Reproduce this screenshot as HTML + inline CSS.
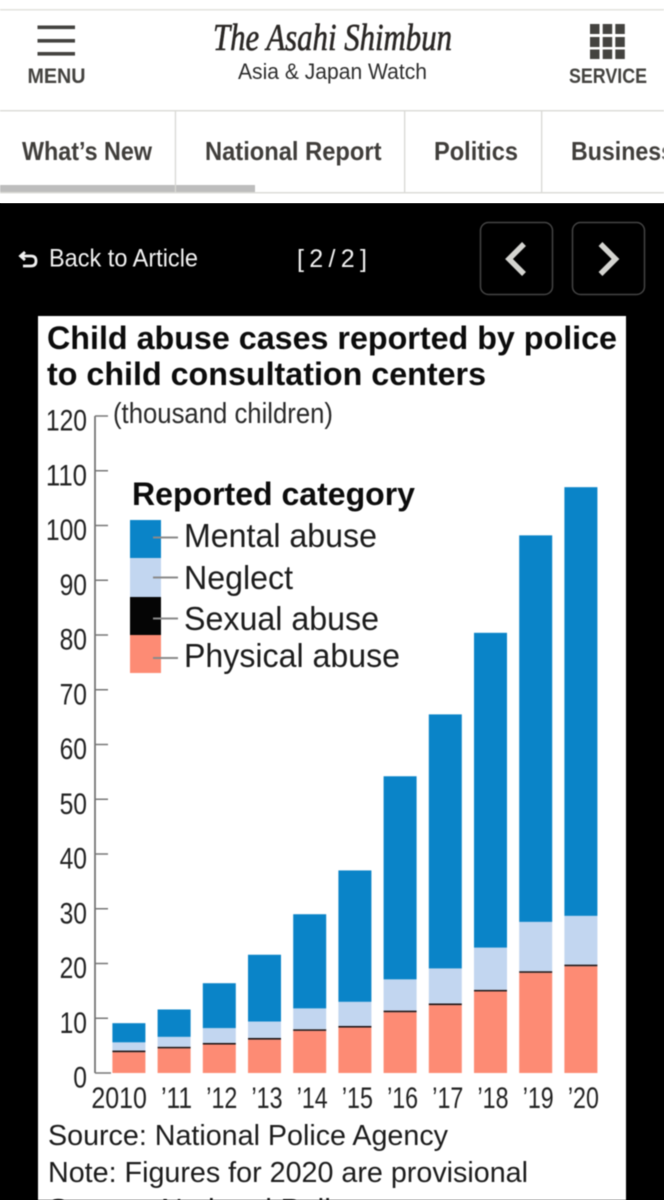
<!DOCTYPE html>
<html lang="en">
<head>
<meta charset="utf-8">
<title>Child abuse cases reported by police to child consultation centers</title>
<style>
html,body{margin:0;padding:0;background:#fff;width:664px;height:1200px;overflow:hidden;position:relative}
#viewer-backdrop{position:absolute;left:0;top:203px;width:664px;height:997px;background:#000}
svg{display:block;position:absolute;left:0;top:0;filter:blur(.45px)}
text{font-family:"Liberation Sans",sans-serif}
</style>
</head>
<body>
<div id="viewer-backdrop"></div>
<svg id="page" xmlns="http://www.w3.org/2000/svg" width="664" height="1200" viewBox="0 0 664 1200">
  <rect x="0" y="0" width="664" height="203" fill="#ffffff"/>
  <rect x="0" y="9" width="664" height="1.5" fill="#e2e2de"/>

  <g fill="#444340">
    <rect x="37.5" y="25.5" width="37.5" height="3.6"/>
    <rect x="37.5" y="39" width="37.5" height="3.6"/>
    <rect x="37.5" y="52" width="37.5" height="3.6"/>
    <text x="27.5" y="83" font-size="21" font-weight="700" textLength="58" lengthAdjust="spacingAndGlyphs">MENU</text>
  </g>

  <g>
    <text x="213" y="50" font-size="38" font-style="italic" fill="#2a2725" stroke="#2a2725" stroke-width=".6" textLength="239" lengthAdjust="spacingAndGlyphs" style="font-family:'Liberation Serif',serif">The Asahi Shimbun</text>
    <text x="238" y="79" font-size="22" fill="#2e2e2e" textLength="189" lengthAdjust="spacingAndGlyphs">Asia &amp; Japan Watch</text>
  </g>

  <g fill="#444340">
    <g>
      <rect x="590" y="24" width="9.5" height="10"/><rect x="602.7" y="24" width="9.5" height="10"/><rect x="615.3" y="24" width="9.5" height="10"/>
      <rect x="590" y="37" width="9.5" height="10"/><rect x="602.7" y="37" width="9.5" height="10"/><rect x="615.3" y="37" width="9.5" height="10"/>
      <rect x="590" y="49.5" width="9.5" height="9.5"/><rect x="602.7" y="49.5" width="9.5" height="9.5"/><rect x="615.3" y="49.5" width="9.5" height="9.5"/>
    </g>
    <text x="569" y="83" font-size="21" font-weight="700" textLength="78" lengthAdjust="spacingAndGlyphs">SERVICE</text>
  </g>

  <rect x="0" y="110" width="664" height="1.5" fill="#dcdcd8"/>
  <rect x="0" y="192" width="664" height="1.5" fill="#dcdcd8"/>
  <rect x="0" y="185" width="255" height="7" fill="#bdbdbd"/>
  <rect x="174.8" y="111" width="1.3" height="81" fill="#d8d8d4"/>
  <rect x="404" y="111" width="1.3" height="81" fill="#d8d8d4"/>
  <rect x="541" y="111" width="1.3" height="81" fill="#d8d8d4"/>
  <g font-size="26" font-weight="700" fill="#403e3b">
    <text x="22" y="160" textLength="130" lengthAdjust="spacingAndGlyphs">What’s New</text>
    <text x="205" y="160" textLength="176.5" lengthAdjust="spacingAndGlyphs">National Report</text>
    <text x="434" y="160" textLength="84" lengthAdjust="spacingAndGlyphs">Politics</text>
    <text x="571" y="160" textLength="103" lengthAdjust="spacingAndGlyphs">Business</text>
  </g>

  <g>
    <path d="M25 252 L20.5 256 L25 260 M21 256 H31 Q36 256 36 261 Q36 266 31 266 H23" fill="none" stroke="#f0f0f0" stroke-width="2.8"/>
    <text x="49" y="266.5" font-size="25" fill="#f2f2f2" textLength="149" lengthAdjust="spacingAndGlyphs">Back to Article</text>
  </g>
  <text x="297" y="267" font-size="25" fill="#f2f2f2" textLength="70" lengthAdjust="spacing">[ 2 / 2 ]</text>
  <g>
    <rect x="480.5" y="222.5" width="72" height="72" rx="8" fill="#000" stroke="#444" stroke-width="1.5"/>
    <path d="M524 244 L509 259 L524 274" fill="none" stroke="#d4d4d0" stroke-width="5.5"/>
  </g>
  <g>
    <rect x="572.5" y="222.5" width="72" height="72" rx="8" fill="#000" stroke="#444" stroke-width="1.5"/>
    <path d="M600.5 244 L615.5 259 L600.5 274" fill="none" stroke="#d4d4d0" stroke-width="5.5"/>
  </g>

  <g id="chart">
    <rect x="38" y="316" width="588" height="900" fill="#ffffff"/>
    <text x="47" y="349" font-size="32" font-weight="700" fill="#0c0c0c" textLength="570" lengthAdjust="spacingAndGlyphs">Child abuse cases reported by police</text>
    <text x="47" y="385" font-size="32" font-weight="700" fill="#0c0c0c" textLength="439" lengthAdjust="spacingAndGlyphs">to child consultation centers</text>
    <text x="113" y="423" font-size="29" fill="#2a2a2a" textLength="220" lengthAdjust="spacingAndGlyphs">(thousand children)</text>
    <g id="y-axis"></g>
    <g id="bars"></g>
    <g id="x-axis"></g>

    <g>
      <text x="132" y="505" font-size="32" font-weight="700" fill="#0c0c0c" textLength="283" lengthAdjust="spacingAndGlyphs">Reported category</text>
      <rect x="130" y="520" width="31" height="38" fill="#0a84c8"/>
      <rect x="130" y="558" width="31" height="39" fill="#c2d6f0"/>
      <rect x="130" y="597" width="31" height="38" fill="#050505"/>
      <rect x="130" y="635" width="31" height="38" fill="#fd8b74"/>
      <g stroke="#8a8a8a" stroke-width="2">
        <line x1="153" y1="537.5" x2="178" y2="537.5"/>
        <line x1="153" y1="577.5" x2="178" y2="577.5"/>
        <line x1="153" y1="618.5" x2="178" y2="618.5"/>
        <line x1="153" y1="658" x2="178" y2="658"/>
      </g>
      <g font-size="33" fill="#1c1c1c">
        <text x="184" y="547" textLength="193" lengthAdjust="spacingAndGlyphs">Mental abuse</text>
        <text x="184" y="589" textLength="109" lengthAdjust="spacingAndGlyphs">Neglect</text>
        <text x="184" y="630" textLength="195" lengthAdjust="spacingAndGlyphs">Sexual abuse</text>
        <text x="184" y="667" textLength="216" lengthAdjust="spacingAndGlyphs">Physical abuse</text>
      </g>
    </g>

    <text x="48" y="1145" font-size="29" fill="#1c1c1c" textLength="400" lengthAdjust="spacingAndGlyphs">Source: National Police Agency</text>
    <text x="48" y="1182" font-size="29" fill="#1c1c1c" textLength="480" lengthAdjust="spacingAndGlyphs">Note: Figures for 2020 are provisional</text>
    <text x="48" y="1219" font-size="29" fill="#1c1c1c" textLength="315" lengthAdjust="spacingAndGlyphs">Source: National Police</text>
  </g>
</svg>

<script>
const categories = ["2010", "’11", "’12", "’13", "’14", "’15", "’16", "’17", "’18", "’19", "’20"];
const physicalAbuse = [3.8, 4.5, 5.2, 6.1, 7.7, 8.3, 11.1, 12.4, 14.9, 18.3, 19.5];
const sexualAbuse = [0.3, 0.3, 0.3, 0.3, 0.3, 0.3, 0.3, 0.3, 0.3, 0.3, 0.3];
const neglect = [1.5, 1.8, 2.7, 3.0, 3.8, 4.4, 5.7, 6.4, 7.7, 9.0, 8.9];
const mentalAbuse = [3.5, 5.0, 8.2, 12.2, 17.2, 24.0, 37.1, 46.4, 57.5, 70.6, 78.3];
const yTicks = [0, 10, 20, 30, 40, 50, 60, 70, 80, 90, 100, 110, 120];

const seriesNames = ["physical", "sexual", "neglect", "mental"];
const seriesValues = [physicalAbuse, sexualAbuse, neglect, mentalAbuse];
const seriesColors = ["#fd8b74", "#1a1010", "#c2d6f0", "#0a84c8"];

const SVG_NS = "http://www.w3.org/2000/svg";
const yZero = 1073;
const yPerUnit = 5.475;
const barLeft = 112.4;
const barStep = 45.2;
const barWidth = 33;

function yScale(v) {
  return yZero - v * yPerUnit;
}
function xScale(i) {
  return barLeft + i * barStep;
}
function make(tag, attrs, parent) {
  const el = document.createElementNS(SVG_NS, tag);
  Object.keys(attrs).forEach(function (k) { el.setAttribute(k, attrs[k]); });
  parent.appendChild(el);
  return el;
}

const yAxis = document.getElementById("y-axis");
const xAxis = document.getElementById("x-axis");
const bars = document.getElementById("bars");

const axisLine = make("line", { x1: 95, y1: yScale(yTicks[yTicks.length - 1]), x2: 95, y2: yScale(0), stroke: "#666", "stroke-width": 1.6 }, yAxis);



yTicks.forEach(function (t) {
  const y = yScale(t);
  const tick = make("line", { x1: 95, y1: y, x2: t === 0 ? 111 : 108, y2: y, stroke: "#777", "stroke-width": 1.5 }, yAxis);
  
  
  const label = String(t);
  const lab = make("text", { x: 87, y: y + 14.5, "font-size": 29.5, fill: "#222", "text-anchor": "end", textLength: label.length * 13.7, lengthAdjust: "spacingAndGlyphs" }, yAxis);
  lab.textContent = label;
  
  
});

categories.forEach(function (cat, i) {
  const x = xScale(i);
  let cumulative = 0;
  seriesValues.forEach(function (values, s) {
    const v = values[i];
    const top = yScale(cumulative + v);
    const rect = make("rect", { x: x, y: top, width: barWidth, height: yScale(cumulative) - top, fill: seriesColors[s] }, bars);
    
    
    cumulative += v;
  });
  const lab = make("text", { x: x + barWidth + 1.5, y: 1108, "font-size": 30, fill: "#222", "text-anchor": "end", textLength: i === 0 ? 55.5 : 31, lengthAdjust: "spacingAndGlyphs" }, xAxis);
  lab.textContent = cat;
  
  
});
</script>
</body>
</html>
